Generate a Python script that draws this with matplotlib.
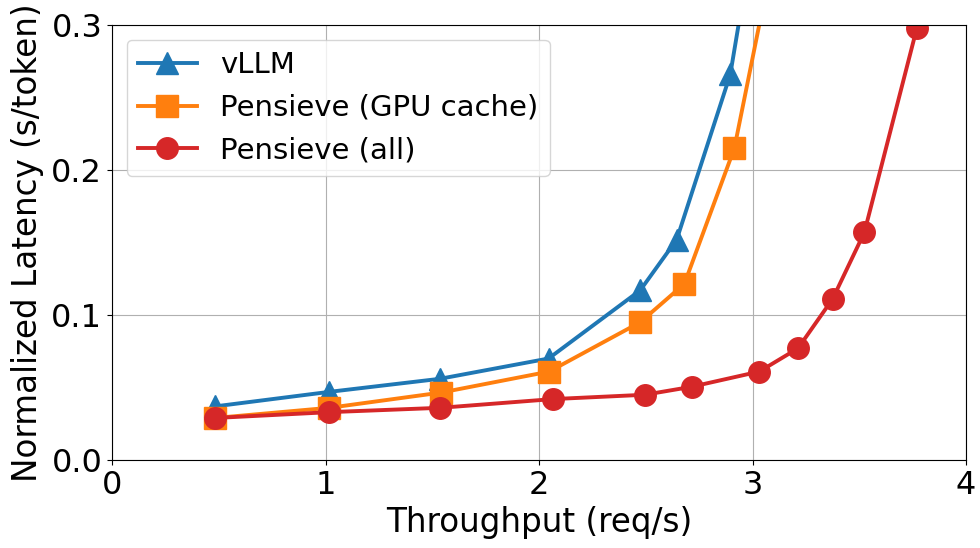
import matplotlib
matplotlib.use("Agg")
import matplotlib.pyplot as plt

# Throughput (req/s) and normalized latency (s/token) per system
vllm_x = [0.484, 1.018, 1.536, 2.045, 2.474, 2.645, 2.896, 2.98]
vllm_y = [0.037, 0.047, 0.056, 0.070, 0.117, 0.152, 0.266, 0.34]

gpu_x = [0.484, 1.018, 1.541, 2.048, 2.474, 2.681, 2.915, 3.10]
gpu_y = [0.029, 0.036, 0.0465, 0.061, 0.095, 0.1215, 0.215, 0.35]

all_x = [0.484, 1.018, 1.538, 2.064, 2.496, 2.715, 3.032, 3.213, 3.375, 3.524, 3.770]
all_y = [0.029, 0.033, 0.036, 0.042, 0.045, 0.0505, 0.061, 0.077, 0.111, 0.157, 0.298]

x_ticks = [0, 1, 2, 3, 4]
y_ticks = [0.0, 0.1, 0.2, 0.3]

plt.rcParams["font.size"] = 23

fig = plt.figure(figsize=(9.8, 5.48), dpi=100)
ax = fig.add_axes([112 / 980, 1 - 460 / 548, (966 - 112) / 980, (460 - 25) / 548])

style = dict(lw=2.8, ms=15.5)
ax.plot(vllm_x, vllm_y, marker="^", color="#1f77b4", label="vLLM", **style)
ax.plot(gpu_x, gpu_y, marker="s", color="#ff7f0e", label="Pensieve (GPU cache)", **style)
ax.plot(all_x, all_y, marker="o", color="#d62728", label="Pensieve (all)", **style)

ax.set_xlim(0, 4)
ax.set_ylim(0, 0.3)
ax.set_xticks(x_ticks)
ax.set_yticks(y_ticks)
ax.set_xticklabels([str(t) for t in x_ticks])
ax.set_yticklabels([f"{t:.1f}" for t in y_ticks])
ax.grid(True)
ax.set_xlabel("Throughput (req/s)", fontsize=23.5, labelpad=4)
ax.set_ylabel("Normalized Latency (s/token)", fontsize=23.5, labelpad=5)
ax.legend(loc="upper left", fontsize=21)

fig.savefig("out.png", dpi=100)
